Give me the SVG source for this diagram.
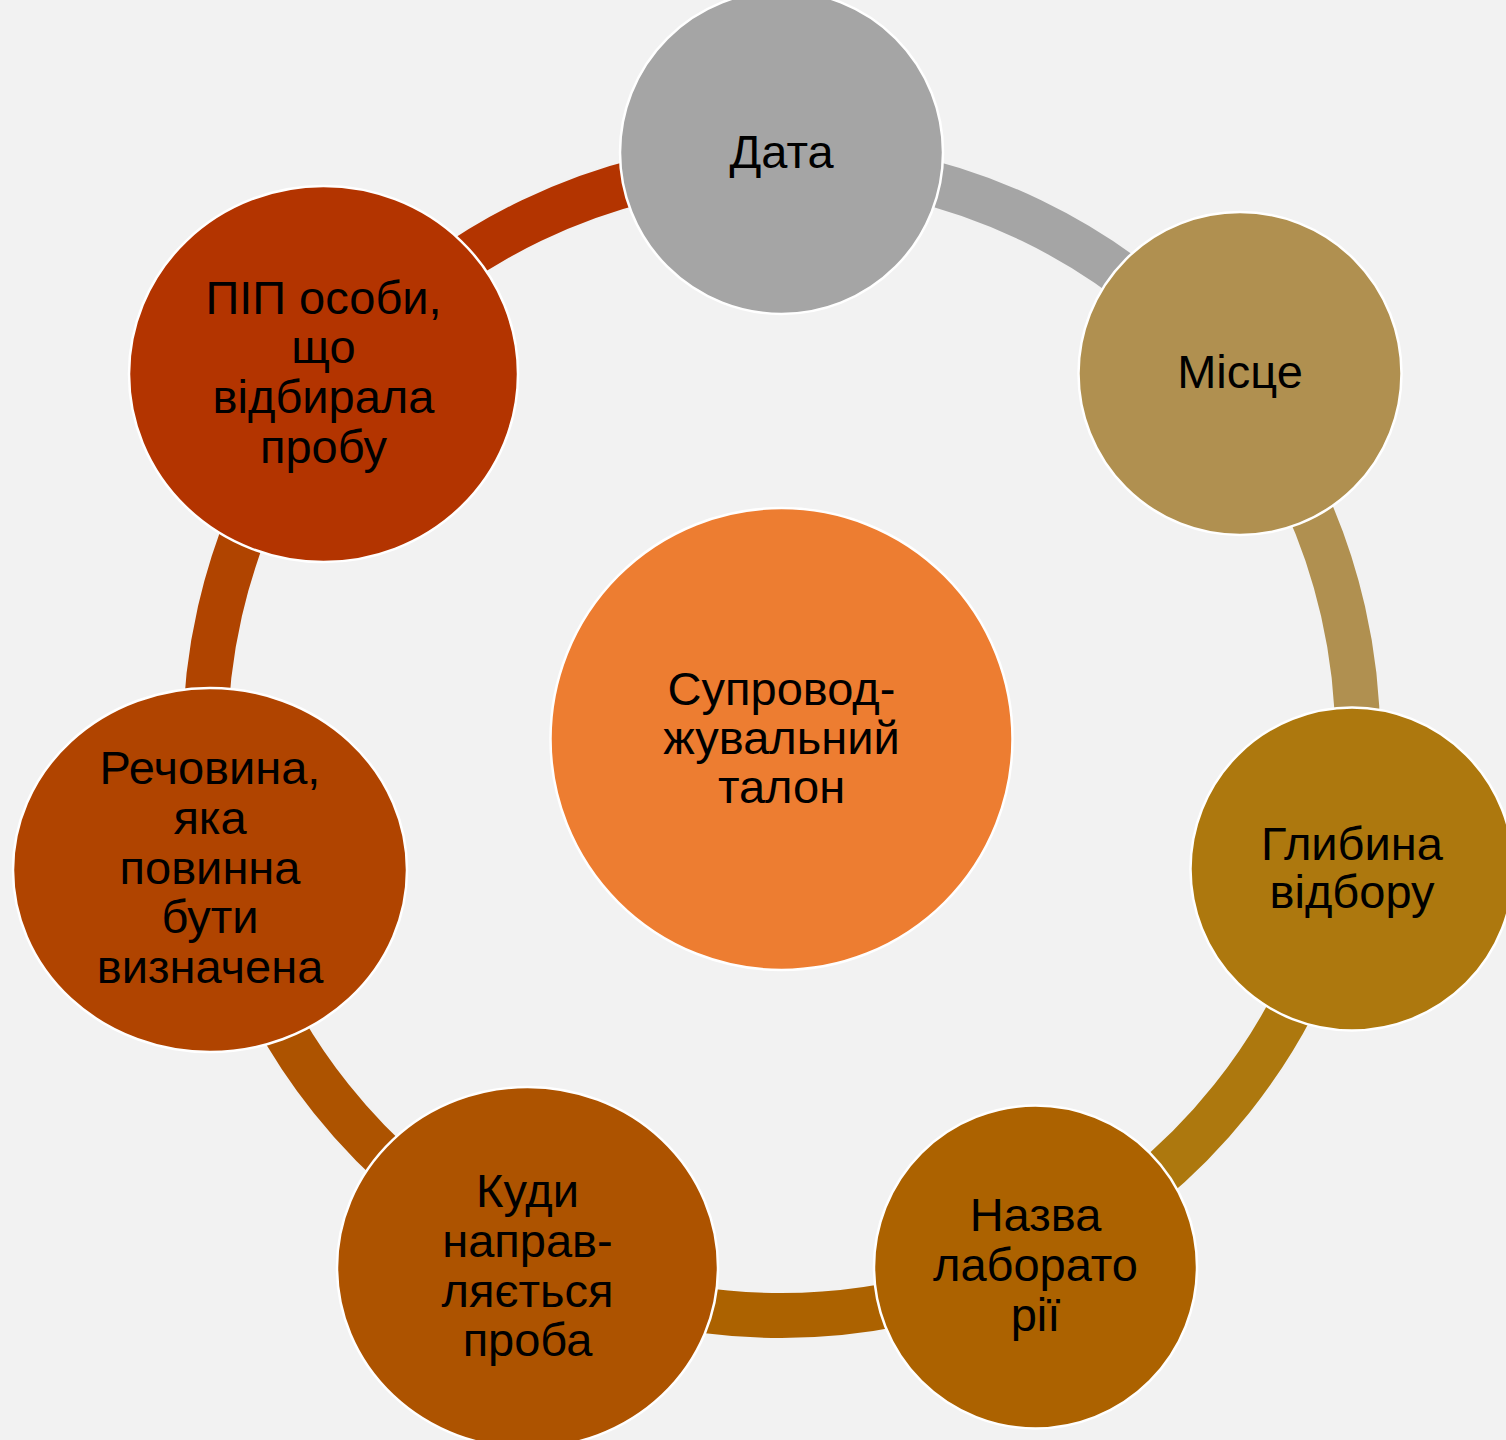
<svg xmlns="http://www.w3.org/2000/svg" width="1506" height="1440" viewBox="0 0 1506 1440">
<style>
.bg{fill:#F2F2F2}
.arc{fill:none;stroke-width:45}
.node{stroke:#FFFFFF;stroke-width:2.5}
.lbl{font-family:"Liberation Sans",Arial,sans-serif;font-size:47px;fill:#000000;text-anchor:middle}
</style>
<rect class="bg" x="0" y="0" width="1506" height="1440"/>
<g id="connectors">
<path class="arc" stroke="#A5A5A5" d="M781.5,163.5 A576,576 0 0 1 1231.83,380.37"/>
<path class="arc" stroke="#B09050" d="M1231.83,380.37 A576,576 0 0 1 1343.06,867.67"/>
<path class="arc" stroke="#AD780E" d="M1343.06,867.67 A576,576 0 0 1 1031.42,1258.46"/>
<path class="arc" stroke="#AC6200" d="M1031.42,1258.46 A576,576 0 0 1 531.58,1258.46"/>
<path class="arc" stroke="#AD5300" d="M531.58,1258.46 A576,576 0 0 1 219.94,867.67"/>
<path class="arc" stroke="#B04400" d="M219.94,867.67 A576,576 0 0 1 331.17,380.37"/>
<path class="arc" stroke="#B33400" d="M331.17,380.37 A576,576 0 0 1 781.5,163.5"/>
</g>
<g id="center">
<circle class="node" cx="781.5" cy="739" r="231" fill="#ED7D31"/>
<text class="lbl" x="781.5" y="705">Супровод-<tspan x="781.5" y="754">жувальний</tspan><tspan x="781.5" y="803">талон</tspan></text>
</g>
<g id="n-data">
<circle class="node" cx="781.5" cy="152.5" r="161.5" fill="#A5A5A5"/>
<text class="lbl" x="781.5" y="168">Дата</text>
</g>
<g id="n-misce">
<circle class="node" cx="1240" cy="373.5" r="161.5" fill="#B09050"/>
<text class="lbl" x="1240" y="388">Місце</text>
</g>
<g id="n-hlybyna">
<circle class="node" cx="1352" cy="869" r="161.5" fill="#AD780E"/>
<text class="lbl" x="1352" y="860">Глибина<tspan x="1352" y="908">відбору</tspan></text>
</g>
<g id="n-nazva">
<circle class="node" cx="1035.5" cy="1267" r="161.5" fill="#AC6200"/>
<text class="lbl" x="1035.5" y="1231">Назва<tspan x="1035.5" y="1281">лаборато</tspan><tspan x="1035.5" y="1331">рії</tspan></text>
</g>
<g id="n-kudy">
<ellipse class="node" cx="527.5" cy="1267.5" rx="190.5" ry="180.5" fill="#AD5300"/>
<text class="lbl" x="527.5" y="1207">Куди<tspan x="527.5" y="1257">направ-</tspan><tspan x="527.5" y="1307">ляється</tspan><tspan x="527.5" y="1356">проба</tspan></text>
</g>
<g id="n-rechovyna">
<ellipse class="node" cx="210" cy="870" rx="197" ry="182" fill="#B04400"/>
<text class="lbl" x="210" y="784">Речовина,<tspan x="210" y="834">яка</tspan><tspan x="210" y="884">повинна</tspan><tspan x="210" y="933">бути</tspan><tspan x="210" y="983">визначена</tspan></text>
</g>
<g id="n-pip">
<ellipse class="node" cx="323.5" cy="374" rx="194.5" ry="188" fill="#B33400"/>
<text class="lbl" x="323.5" y="314">ПІП особи,<tspan x="323.5" y="363">що</tspan><tspan x="323.5" y="413">відбирала</tspan><tspan x="323.5" y="463">пробу</tspan></text>
</g>
</svg>
